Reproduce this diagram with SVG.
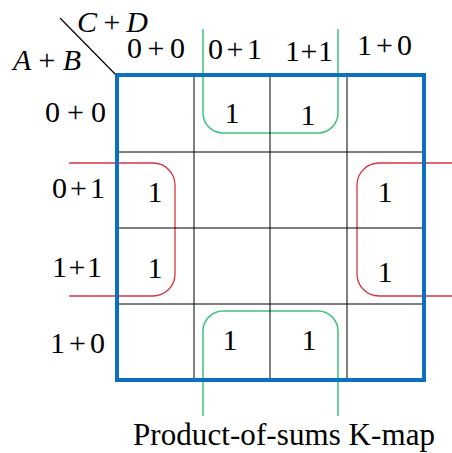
<svg xmlns="http://www.w3.org/2000/svg" width="452" height="453" viewBox="0 0 452 453">
<style>
.t{font-family:"Liberation Serif","Times New Roman",serif;font-size:30px;fill:#000}
.i{font-style:italic}
.grid{stroke:#000;stroke-width:1;fill:none}
.border{stroke:#0B70C2;stroke-width:4;fill:none}
.green{stroke:#3CC47A;stroke-width:1.5;fill:none}
.red{stroke:#D8343E;stroke-width:1.3;fill:none}
</style>
<rect width="452" height="453" fill="#fff"/>
<g id="connectors">
<path class="green" d="M203 29 V113 A20 20 0 0 0 223 133 H318 A20 20 0 0 0 338 113 V29"/>
<path class="green" d="M203 416 V331 A20 20 0 0 1 223 311 H318 A20 20 0 0 1 338 331 V416"/>
<path class="red" d="M69 163 H153 A22 22 0 0 1 175 185 V274 A22 22 0 0 1 153 296 H69"/>
<path class="red" d="M452 163 H379 A22 22 0 0 0 357 185 V274 A22 22 0 0 0 379 296 H452"/>
</g>
<g id="grid">
<path class="grid" d="M194 75 V380 M270 75 V380 M347 75 V380 M117 152 H424 M117 228 H424 M117 304 H424"/>
<line x1="60" y1="18" x2="117" y2="76" stroke="#000" stroke-width="1.2"/>
<rect class="border" x="117" y="75" width="307" height="305"/>
</g>
<g id="axis-labels">
<text class="t i" x="77" y="32" textLength="71" lengthAdjust="spacing">C + D</text>
<text class="t i" x="13" y="70" textLength="68" lengthAdjust="spacing">A + B</text>
</g>
<g id="col-headers">
<text class="t" x="127" y="58" textLength="58" lengthAdjust="spacing">0 + 0</text>
<text class="t" x="208" y="59" textLength="54" lengthAdjust="spacing">0 + 1</text>
<text class="t" x="285" y="61" textLength="48" lengthAdjust="spacing">1 + 1</text>
<text class="t" x="357" y="55" textLength="55" lengthAdjust="spacing">1 + 0</text>
</g>
<g id="row-headers">
<text class="t" x="45" y="122" textLength="61" lengthAdjust="spacing">0 + 0</text>
<text class="t" x="52" y="198" textLength="53" lengthAdjust="spacing">0 + 1</text>
<text class="t" x="52" y="277" textLength="50" lengthAdjust="spacing">1 + 1</text>
<text class="t" x="50" y="353" textLength="55" lengthAdjust="spacing">1 + 0</text>
</g>
<g id="cells" text-anchor="middle">
<text class="t" x="232" y="123">1</text>
<text class="t" x="308" y="125">1</text>
<text class="t" x="155" y="202">1</text>
<text class="t" x="155" y="278">1</text>
<text class="t" x="385" y="202">1</text>
<text class="t" x="385" y="282">1</text>
<text class="t" x="230" y="350">1</text>
<text class="t" x="309" y="350">1</text>
</g>
<g id="caption">
<text class="t" x="133" y="445" font-size="31" style="font-size:31px" textLength="302" lengthAdjust="spacing">Product-of-sums K-map</text>
</g>
</svg>
